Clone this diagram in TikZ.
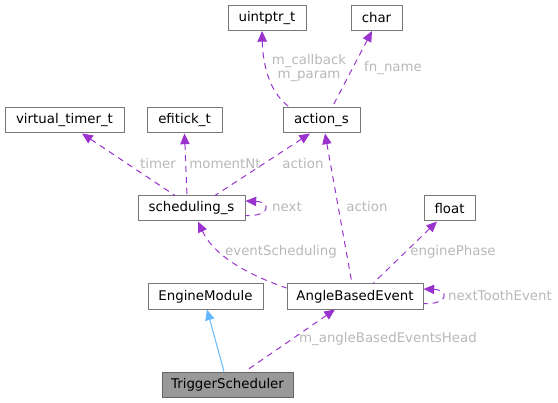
\documentclass[tikz,border=0pt]{standalone}
\usepackage{fontspec}
\setmainfont{DejaVu Sans}
\usetikzlibrary{arrows.meta,calc}

\definecolor{edgepurple}{HTML}{9A32CD}
\definecolor{edgeblue}{HTML}{63B8FF}
\definecolor{labelgrey}{HTML}{B8B8B8}
\definecolor{boxborder}{HTML}{777777}

\tikzset{every picture/.style={line width=0.75pt}}
\tikzset{
  classbox/.style={draw=boxborder, fill=white, minimum height=18.75pt, inner sep=0pt, font=\fontsize{10pt}{11pt}\selectfont},
  dep/.style={draw=edgepurple, dash pattern=on 4.5pt off 3.75pt, {Triangle[length=8pt,width=7pt]}-},
  inherit/.style={draw=edgeblue, {Triangle[length=8pt,width=7pt]}-},
  edgelabel/.style={text=labelgrey, font=\fontsize{10pt}{11pt}\selectfont, inner sep=0pt, align=center}
}

\begin{document}
\begin{tikzpicture}[x=0.75pt,y=0.75pt,yscale=-1,xscale=1]
	\useasboundingbox (0,0) rectangle (558,403);

	% Class boxes
	\node [classbox, minimum width=58.5pt] (uint) at (267,18) {uintptr\_t};
	\node [classbox, minimum width=38.25pt] (chr) at (376.5,18) {char};
	\node [classbox, minimum width=89.25pt] (vtt) at (64.5,120.5) {virtual\_timer\_t};
	\node [classbox, minimum width=56.25pt] (efi) at (184.5,120.5) {efitick\_t};
	\node [classbox, minimum width=57.75pt] (act) at (321.5,120.5) {action\_s};
	\node [classbox, minimum width=80.25pt] (sched) at (191.5,208.5) {scheduling\_s};
	\node [classbox, minimum width=38.25pt] (flt) at (449.5,208.5) {float};
	\node [classbox, minimum width=86.25pt] (engmod) at (205.5,296.5) {EngineModule};
	\node [classbox, minimum width=102pt] (abe) at (355,296.5) {AngleBasedEvent};
	\node [classbox, minimum width=98.25pt, fill={rgb, 255:red, 153; green, 153; blue, 153}, draw={rgb, 255:red, 102; green, 102; blue, 102}] (trig) at (227.5,384.5) {TriggerScheduler};

	% action_s members
	\draw [dep] ($(uint.south)+(-5,0)$) .. controls (263,70) and (272,95) .. ($(act.north)+(-31.5,0)$);
	\draw [dep] ($(chr.south)+(-4.5,0)$) -- ($(act.north)+(10.5,0)$);
	% scheduling_s members
	\draw [dep] ($(vtt.south)+(17.5,0)$) -- ($(sched.north)+(-16.5,0)$);
	\draw [dep] (efi.south) -- ($(sched.north)+(-4.5,0)$);
	\draw [dep] ($(act.south)+(-11.5,0)$) -- ($(sched.north)+(23.5,0)$);
	\draw [dep] ($(sched.east)+(0,-7.5)$) .. controls (272,202) and (270,217) .. ($(sched.east)+(0,7)$);
	% AngleBasedEvent members
	\draw [dep] ($(act.south)+(3.5,0)$) -- ($(abe.north)+(-3,0)$);
	\draw [dep] ($(flt.south)+(-12.5,0)$) -- ($(abe.north)+(18,0)$);
	\draw [dep] ($(sched.south)+(6.5,0)$) .. controls (212,252) and (240,272) .. ($(abe.west)+(0,-8.5)$);
	\draw [dep] ($(abe.east)+(0,-7.5)$) .. controls (450,290) and (448,305) .. ($(abe.east)+(0,7)$);
	% TriggerScheduler
	\draw [inherit] ($(engmod.south)+(1.5,0)$) -- ($(trig.north)+(-3.5,0)$);
	\draw [dep] ($(abe.south)+(-20,0)$) -- ($(trig.north)+(17.5,0)$);

	% Edge labels
	\node [edgelabel] (lblcb) at (309,68) {m\_callback\\m\_param};
	\node [edgelabel] (lblfn) at (393,68) {fn\_name};
	\node [edgelabel] (lbltimer) at (158,164) {timer};
	\node [edgelabel] (lblmoment) at (225,164) {momentNt};
	\node [edgelabel] (lblact) at (303,164) {action};
	\node [edgelabel] (lblnext) at (287,207) {next};
	\node [edgelabel] (lblact2) at (367,207) {action};
	\node [edgelabel] (lblphase) at (453,252) {enginePhase};
	\node [edgelabel] (lblevsched) at (281,252) {eventScheduling};
	\node [edgelabel] (lbltooth) at (500,296) {nextToothEvent};
	\node [edgelabel] (lblhead) at (388,339) {m\_angleBasedEventsHead};

\end{tikzpicture}
\end{document}
